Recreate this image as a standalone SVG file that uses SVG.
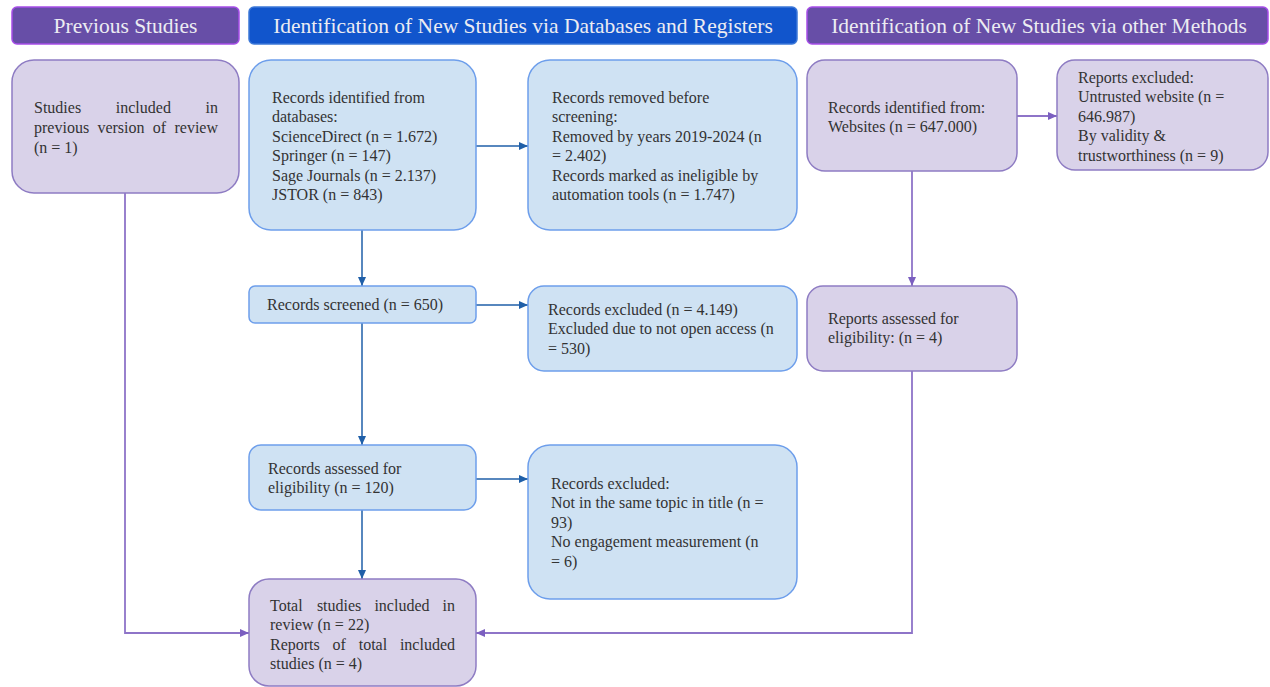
<svg xmlns="http://www.w3.org/2000/svg" width="1270" height="687" viewBox="0 0 1270 687">
<style>
.hdrP{fill:#674ea7;stroke:#a64de8;stroke-width:1.5}
.hdrB{fill:#1155cc;stroke:#3c78d8;stroke-width:1.5}
.ht{font-family:'Liberation Serif','Times New Roman',Tinos,'DejaVu Serif',serif;font-size:21.5px;fill:#ececf2;text-anchor:middle}
.bB{fill:#cfe2f3;stroke:#6d9eeb;stroke-width:1.5}
.bP{fill:#d9d2e9;stroke:#8e7cc3;stroke-width:1.5}
.t{font-family:'Liberation Serif','Times New Roman',Tinos,'DejaVu Serif',serif;font-size:16px;fill:#333333}
.cB{fill:none;stroke:#1f5fa8;stroke-width:1.5}
.cP{fill:none;stroke:#8e74c8;stroke-width:1.8}
</style>
<defs>
<marker id="aB" markerUnits="userSpaceOnUse" markerWidth="10" markerHeight="10" refX="9" refY="4" orient="auto"><path d="M0,0 L9,4 L0,8 Z" fill="#1f5fa8"/></marker>
<marker id="aP" markerUnits="userSpaceOnUse" markerWidth="10" markerHeight="10" refX="9" refY="4" orient="auto"><path d="M0,0 L9,4 L0,8 Z" fill="#7b5fc0"/></marker>
</defs>

<g id="hdr-previous"><rect class="hdrP" x="12" y="7" width="227" height="37" rx="5"/><text class="ht" x="125.5" y="33">Previous Studies</text></g>
<g id="hdr-databases"><rect class="hdrB" x="249" y="7" width="548" height="37" rx="5"/><text class="ht" x="523" y="33">Identification of New Studies via Databases and Registers</text></g>
<g id="hdr-other"><rect class="hdrP" x="807" y="7" width="461" height="37" rx="5"/><text class="ht" x="1039" y="33">Identification of New Studies via other Methods</text></g>

<g id="connectors">
<path class="cP" d="M125 193 V633 H249" marker-end="url(#aP)"/>
<path class="cB" d="M476 146 H528" marker-end="url(#aB)"/>
<path class="cB" d="M362 230 V286" marker-end="url(#aB)"/>
<path class="cB" d="M476 305 H528" marker-end="url(#aB)"/>
<path class="cB" d="M362 323 V445" marker-end="url(#aB)"/>
<path class="cB" d="M476 479 H528" marker-end="url(#aB)"/>
<path class="cB" d="M362 510 V579" marker-end="url(#aB)"/>
<path class="cP" d="M1017 116 H1057" marker-end="url(#aP)"/>
<path class="cP" d="M912 171 V286" marker-end="url(#aP)"/>
<path class="cP" d="M912 371 V633 H476" marker-end="url(#aP)"/>
</g>

<g id="n-previous">
<rect class="bP" x="12" y="60" width="227" height="133" rx="22"/>
<text class="t" y="113"><tspan x="34">Studies</tspan><tspan x="115.8">included</tspan><tspan x="218" text-anchor="end">in</tspan></text>
<text class="t" y="133"><tspan x="34">previous</tspan><tspan x="97.4">version</tspan><tspan x="152.8">of</tspan><tspan x="218" text-anchor="end">review</tspan></text>
<text class="t" x="34" y="153">(n = 1)</text>
</g>

<g id="n-databases">
<rect class="bB" x="249" y="60" width="227" height="170" rx="22"/>
<text class="t"><tspan x="272" y="103">Records identified from</tspan><tspan x="272" y="122.4">databases:</tspan><tspan x="272" y="141.8">ScienceDirect (n = 1.672)</tspan><tspan x="272" y="161.2">Springer (n = 147)</tspan><tspan x="272" y="180.6">Sage Journals (n = 2.137)</tspan><tspan x="272" y="200">JSTOR (n = 843)</tspan></text>
</g>

<g id="n-removed">
<rect class="bB" x="528" y="60" width="269" height="170" rx="22"/>
<text class="t"><tspan x="552" y="103">Records removed before</tspan><tspan x="552" y="122.4">screening:</tspan><tspan x="552" y="141.8">Removed by years 2019-2024 (n</tspan><tspan x="552" y="161.2">= 2.402)</tspan><tspan x="552" y="180.6">Records marked as ineligible by</tspan><tspan x="552" y="200">automation tools (n = 1.747)</tspan></text>
</g>

<g id="n-websites">
<rect class="bP" x="807" y="60" width="210" height="111" rx="18"/>
<text class="t"><tspan x="828" y="113">Records identified from:</tspan><tspan x="828" y="132.4">Websites (n = 647.000)</tspan></text>
</g>

<g id="n-reports-excluded">
<rect class="bP" x="1057" y="60" width="211" height="110" rx="18"/>
<text class="t"><tspan x="1078" y="83">Reports excluded:</tspan><tspan x="1078" y="102.4">Untrusted website (n =</tspan><tspan x="1078" y="121.8">646.987)</tspan><tspan x="1078" y="141.2">By validity &amp;</tspan><tspan x="1078" y="160.6">trustworthiness (n = 9)</tspan></text>
</g>

<g id="n-screened">
<rect class="bB" x="249" y="286" width="227" height="37" rx="6"/>
<text class="t" x="267" y="310">Records screened (n = 650)</text>
</g>

<g id="n-excluded1">
<rect class="bB" x="528" y="286" width="269" height="85" rx="16"/>
<text class="t"><tspan x="548" y="315">Records excluded (n = 4.149)</tspan><tspan x="548" y="334.4">Excluded due to not open access (n</tspan><tspan x="548" y="353.8">= 530)</tspan></text>
</g>

<g id="n-reports-assessed">
<rect class="bP" x="807" y="286" width="210" height="85" rx="16"/>
<text class="t"><tspan x="828" y="324">Reports assessed for</tspan><tspan x="828" y="343.4">eligibility: (n = 4)</tspan></text>
</g>

<g id="n-assessed">
<rect class="bB" x="249" y="445" width="227" height="65" rx="12"/>
<text class="t"><tspan x="268" y="474">Records assessed for</tspan><tspan x="268" y="493.4">eligibility (n = 120)</tspan></text>
</g>

<g id="n-excluded2">
<rect class="bB" x="528" y="445" width="269" height="154" rx="22"/>
<text class="t"><tspan x="551" y="489">Records excluded:</tspan><tspan x="551" y="508.4">Not in the same topic in title (n =</tspan><tspan x="551" y="527.8">93)</tspan><tspan x="551" y="547.2">No engagement measurement (n</tspan><tspan x="551" y="566.6">= 6)</tspan></text>
</g>

<g id="n-total">
<rect class="bP" x="249" y="579" width="227" height="107" rx="20"/>
<text class="t" y="611"><tspan x="270">Total</tspan><tspan x="316.9">studies</tspan><tspan x="374.4">included</tspan><tspan x="455" text-anchor="end">in</tspan></text>
<text class="t" x="270" y="630.4">review (n = 22)</text>
<text class="t" y="649.8"><tspan x="270">Reports</tspan><tspan x="332.6">of</tspan><tspan x="358.7">total</tspan><tspan x="455" text-anchor="end">included</tspan></text>
<text class="t" x="270" y="669.2">studies (n = 4)</text>
</g>
</svg>
